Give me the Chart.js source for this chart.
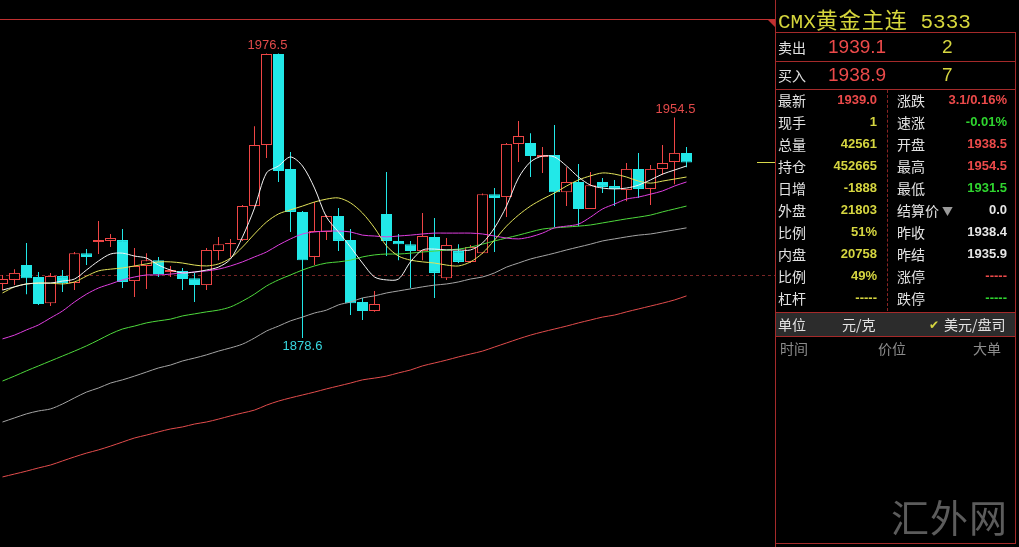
<!DOCTYPE html>
<html><head><meta charset="utf-8">
<script src="https://cdn.jsdelivr.net/npm/chart.js@4.4.0/dist/chart.umd.min.js"></script>
<style>
html,body{margin:0;padding:0;background:#000;width:1019px;height:547px;overflow:hidden;}
#wrap{position:relative;width:1019px;height:547px;font-family:"Noto Sans CJK SC",sans-serif;}
#c{position:absolute;left:0;top:0;}
.t{position:absolute;white-space:nowrap;}
.lab{font-size:14px;line-height:20px;color:#e2e2e2;}
.val{font-family:"Liberation Sans",Arial,sans-serif;font-weight:bold;font-size:13px;line-height:20px;text-align:right;}
.vl{right:142px;}
.vr{right:12px;}
.y{color:#d6d640;} .r{color:#ec4a4a;} .g{color:#2fd52f;} .w{color:#e6e6e6;}
.hl{position:absolute;left:775px;width:241px;height:1px;background:#a52a2a;}
.vln{position:absolute;width:1px;background:#a52a2a;}
</style></head>
<body><div id="wrap">
<canvas id="c" width="775" height="547"></canvas>

<!-- top red rule of the chart -->
<div style="position:absolute;left:0;top:19px;width:775px;height:1px;background:#c03030"></div>
<div style="position:absolute;left:767px;top:19px;width:0;height:0;border-top:8px solid #c03030;border-left:8px solid transparent"></div>

<!-- quote panel frame -->
<div class="vln" style="left:775px;top:0;height:547px"></div>
<div class="vln" style="left:1015px;top:32px;height:512px"></div>
<div class="hl" style="top:32px"></div>
<div class="hl" style="top:61px"></div>
<div class="hl" style="top:89px"></div>
<div style="position:absolute;left:776px;top:313px;width:239px;height:23px;background:#2c2c2c"></div>
<div class="hl" style="top:312px"></div>
<div class="hl" style="top:336px"></div>
<div class="hl" style="top:543px"></div>
<div style="position:absolute;left:887px;top:90px;height:221px;width:0;border-left:1px dashed #8a2424"></div>

<div class="t" style="left:778px;top:4px;line-height:28px;color:#d6d63c;"><span style="font-family:'Liberation Mono',monospace;font-size:21px">CMX</span><span style="font-size:22px;letter-spacing:1px">黄金主连</span><span style="font-family:'Liberation Mono',monospace;font-size:21px"> 5333</span></div>

<div class="t lab" style="left:778px;top:37px">卖出</div>
<div class="t r" style="left:828px;top:35px;font-family:'Liberation Sans',Arial,sans-serif;font-size:19px;line-height:24px">1939.1</div>
<div class="t y" style="left:942px;top:35px;font-family:'Liberation Sans',Arial,sans-serif;font-size:19px;line-height:24px">2</div>
<div class="t lab" style="left:778px;top:65px">买入</div>
<div class="t r" style="left:828px;top:63px;font-family:'Liberation Sans',Arial,sans-serif;font-size:19px;line-height:24px">1938.9</div>
<div class="t y" style="left:942px;top:63px;font-family:'Liberation Sans',Arial,sans-serif;font-size:19px;line-height:24px">7</div>

<div class="t lab" style="left:778px;top:90px">最新</div><div class="t val vl r" style="top:90px">1939.0</div>
<div class="t lab" style="left:897px;top:90px">涨跌</div><div class="t val vr r" style="top:90px">3.1/0.16%</div>
<div class="t lab" style="left:778px;top:112px">现手</div><div class="t val vl y" style="top:112px">1</div>
<div class="t lab" style="left:897px;top:112px">速涨</div><div class="t val vr g" style="top:112px">-0.01%</div>
<div class="t lab" style="left:778px;top:134px">总量</div><div class="t val vl y" style="top:134px">42561</div>
<div class="t lab" style="left:897px;top:134px">开盘</div><div class="t val vr r" style="top:134px">1938.5</div>
<div class="t lab" style="left:778px;top:156px">持仓</div><div class="t val vl y" style="top:156px">452665</div>
<div class="t lab" style="left:897px;top:156px">最高</div><div class="t val vr r" style="top:156px">1954.5</div>
<div class="t lab" style="left:778px;top:178px">日增</div><div class="t val vl y" style="top:178px">-1888</div>
<div class="t lab" style="left:897px;top:178px">最低</div><div class="t val vr g" style="top:178px">1931.5</div>
<div class="t lab" style="left:778px;top:200px">外盘</div><div class="t val vl y" style="top:200px">21803</div>
<div class="t lab" style="left:897px;top:200px">结算价<span style="color:#9a9a9a;font-size:11px;margin-left:3px">▼</span></div><div class="t val vr w" style="top:200px">0.0</div>
<div class="t lab" style="left:778px;top:222px">比例</div><div class="t val vl y" style="top:222px">51%</div>
<div class="t lab" style="left:897px;top:222px">昨收</div><div class="t val vr w" style="top:222px">1938.4</div>
<div class="t lab" style="left:778px;top:244px">内盘</div><div class="t val vl y" style="top:244px">20758</div>
<div class="t lab" style="left:897px;top:244px">昨结</div><div class="t val vr w" style="top:244px">1935.9</div>
<div class="t lab" style="left:778px;top:266px">比例</div><div class="t val vl y" style="top:266px">49%</div>
<div class="t lab" style="left:897px;top:266px">涨停</div><div class="t val vr r" style="top:266px">-----</div>
<div class="t lab" style="left:778px;top:288px">杠杆</div><div class="t val vl y" style="top:288px">-----</div>
<div class="t lab" style="left:897px;top:288px">跌停</div><div class="t val vr g" style="top:288px">-----</div>

<div class="t lab" style="left:778px;top:314px">单位</div>
<div class="t lab" style="left:842px;top:314px">元/克</div>
<div class="t lab" style="left:929px;top:314px;color:#d6d640;font-size:12px">✔</div>
<div class="t lab" style="left:944px;top:314px">美元/盘司</div>

<div class="t lab" style="left:780px;top:338px;color:#8c8c8c">时间</div>
<div class="t lab" style="left:878px;top:338px;color:#8c8c8c">价位</div>
<div class="t lab" style="left:973px;top:338px;color:#8c8c8c">大单</div>

<div class="t" style="left:891px;top:493px;font-size:38px;line-height:46px;color:#5c5c5c;letter-spacing:1px">汇外网</div>
</div>

<script>
// ---- candle data (price) ----
const opens  = [1897.2,1898.6,1903.7,1899.6,1890.6,1899.9,1897.5,1907.8,1911.6,1912.0,
                1912.3,1898.2,1903.4,1905.4,1901.3,1901.7,1899.2,1896.8,1908.5,1910.9,
                1912.3,1924.0,1945.0,1976.3,1936.8,1922.0,1906.5,1915.1,1920.6,1912.3,
                1891.0,1887.9,1921.3,1912.0,1910.9,1908.5,1913.4,1899.2,1908.5,1904.8,
                1907.8,1928.1,1927.1,1945.4,1945.7,1940.9,1941.6,1928.8,1932.3,1923.0,
                1932.3,1930.9,1929.5,1936.8,1929.9,1936.8,1939.2,1942.3];
const highs  = [1900.3,1902.3,1911.3,1901.3,1901.0,1902.0,1908.2,1909.2,1918.9,1914.4,
                1916.1,1909.6,1907.8,1906.5,1903.4,1902.7,1901.0,1909.6,1913.4,1912.7,
                1924.4,1951.5,1976.5,1976.5,1942.6,1922.3,1925.4,1920.9,1923.3,1916.1,
                1892.4,1894.8,1935.7,1914.4,1912.0,1921.6,1919.9,1913.0,1910.9,1910.6,
                1928.3,1930.2,1945.7,1953.3,1949.1,1944.3,1951.9,1937.4,1938.5,1935.7,
                1933.7,1933.0,1938.8,1942.3,1938.1,1945.0,1954.5,1944.3];
const lows   = [1895.1,1896.8,1893.7,1890.0,1889.6,1894.4,1895.1,1903.7,1907.5,1909.9,
                1895.8,1892.7,1895.5,1899.6,1899.6,1895.1,1891.0,1895.1,1905.4,1906.5,
                1912.0,1923.7,1940.5,1932.3,1915.1,1878.6,1903.7,1912.3,1908.5,1886.5,
                1884.8,1887.6,1906.8,1905.4,1895.8,1905.4,1892.4,1898.6,1904.4,1904.4,
                1907.5,1908.2,1920.2,1939.2,1934.0,1935.4,1916.8,1924.0,1917.1,1923.0,
                1928.5,1924.0,1925.7,1926.8,1924.4,1934.7,1931.5,1937.4];
const closes = [1898.9,1901.0,1899.2,1890.3,1899.9,1897.5,1907.8,1906.5,1912.3,1913.0,
                1897.9,1903.4,1905.4,1900.6,1902.0,1898.9,1896.8,1908.9,1910.9,1911.3,
                1924.0,1945.0,1976.3,1936.1,1922.0,1905.4,1915.4,1920.6,1912.0,1890.6,
                1887.9,1890.3,1912.0,1910.9,1908.5,1913.7,1901.0,1910.6,1904.8,1909.9,
                1928.1,1926.8,1945.4,1948.1,1941.2,1941.6,1928.8,1932.3,1923.0,1931.2,
                1930.6,1929.9,1936.8,1929.9,1936.8,1938.8,1942.3,1939.0];

// ---- moving averages ----
const maWhite  = [1895.1,1896.2,1897.2,1897.5,1897.5,1898.2,1898.9,1902.0,1905.1,1907.5,
                  1907.8,1906.8,1906.1,1903.7,1902.0,1901.0,1901.3,1902.0,1903.0,1905.8,
                  1913.4,1923.3,1935.4,1937.8,1940.9,1937.8,1930.2,1920.2,1915.1,1909.9,
                  1904.4,1899.6,1898.6,1898.9,1904.8,1908.9,1909.2,1908.9,1908.9,1908.9,
                  1911.3,1916.5,1924.0,1933.7,1939.2,1941.2,1940.9,1937.8,1934.0,1931.2,
                  1930.2,1929.9,1930.2,1931.2,1933.0,1935.0,1936.4,1937.8];
const maYellow = [1894.1,1896.2,1897.2,1897.5,1897.5,1897.2,1897.9,1899.9,1901.7,1902.3,
                  1902.7,1903.4,1904.1,1904.8,1904.8,1904.4,1903.7,1903.4,1904.1,1906.1,
                  1909.9,1914.4,1918.5,1921.3,1922.7,1924.0,1925.4,1926.4,1926.8,1925.1,
                  1921.6,1916.5,1910.3,1906.8,1905.4,1904.8,1904.4,1903.7,1903.4,1904.8,
                  1907.8,1912.3,1917.1,1920.9,1924.0,1926.4,1928.5,1930.9,1933.0,1934.4,
                  1935.4,1935.0,1934.0,1932.6,1931.9,1932.6,1933.3,1934.0];
const maPurple = [1878.3,1879.6,1881.4,1883.1,1885.5,1887.9,1891.0,1893.7,1895.8,1897.2,
                  1898.6,1899.6,1900.3,1900.3,1900.6,1901.0,1901.3,1901.7,1902.3,1903.4,
                  1904.8,1906.5,1908.2,1910.6,1912.7,1914.4,1915.1,1915.4,1915.4,1915.1,
                  1914.0,1913.7,1913.4,1913.7,1914.0,1914.4,1914.7,1914.7,1914.7,1914.7,
                  1914.4,1913.7,1913.0,1912.7,1913.4,1914.7,1916.5,1917.1,1917.8,1920.2,
                  1923.0,1924.7,1926.4,1927.1,1928.1,1929.2,1930.9,1932.3];
const maGreen  = [1863.8,1865.5,1867.3,1869.0,1870.7,1872.4,1874.1,1875.9,1877.9,1880.0,
                  1881.7,1882.7,1883.8,1884.5,1885.1,1886.2,1886.9,1887.6,1888.2,1889.3,
                  1891.3,1893.7,1896.5,1898.6,1900.3,1902.0,1903.4,1904.4,1904.8,1905.4,
                  1906.5,1907.2,1907.5,1907.5,1907.8,1908.2,1908.5,1908.9,1909.2,1909.9,
                  1910.9,1912.0,1913.0,1914.0,1915.1,1916.1,1916.5,1916.8,1917.1,1917.5,
                  1918.2,1918.9,1919.6,1920.2,1920.9,1922.0,1923.0,1924.0];
const maGray   = [1849.7,1851.1,1852.5,1853.5,1854.2,1855.9,1858.0,1860.0,1861.4,1863.1,
                  1864.2,1865.5,1866.9,1868.3,1869.3,1870.7,1871.7,1872.8,1874.1,1875.2,
                  1876.5,1878.6,1881.0,1882.7,1884.5,1885.8,1887.2,1888.2,1890.0,1891.0,
                  1892.4,1893.1,1894.1,1894.8,1895.5,1896.2,1896.8,1897.2,1897.9,1898.9,
                  1899.6,1901.0,1903.0,1904.4,1905.8,1906.8,1907.8,1908.9,1909.9,1910.9,
                  1912.0,1912.7,1913.4,1914.0,1914.4,1915.1,1915.8,1916.5];
const maRed    = [1830.8,1831.8,1832.8,1833.9,1834.9,1836.3,1837.7,1839.0,1840.1,1841.4,
                  1842.8,1844.2,1845.2,1846.3,1847.3,1848.0,1849.0,1849.7,1850.7,1851.8,
                  1852.8,1853.8,1855.5,1856.9,1858.0,1859.0,1860.0,1861.1,1862.1,1863.1,
                  1864.2,1864.8,1865.5,1866.6,1867.6,1869.0,1870.0,1871.0,1872.1,1873.1,
                  1874.1,1875.5,1876.9,1878.3,1879.6,1880.7,1881.7,1882.7,1883.8,1884.8,
                  1885.8,1886.5,1887.6,1888.6,1889.6,1890.6,1891.7,1893.1];

const refLevel = 1900.3;          // dashed reference line
const lastPrice = 1939.0;         // current price tick
const highMarks = [22, 56];       // candles whose high is labelled
const lowMarks  = [25];           // candles whose low is labelled

const UP = '#f04646', DN = '#22e8e8';
const idx = opens.map((_, i) => i);
const up = idx.map(i => closes[i] >= opens[i]);
const pts = arr => arr.map((v, i) => ({x: i, y: v}));
const line = (arr, color) => ({type: 'line', data: pts(arr), borderColor: color, borderWidth: 1,
  pointRadius: 0, tension: 0.3, order: 0, clip: false});

const overlay = {
  id: 'overlay',
  beforeDatasetsDraw(chart) {
    const {ctx, chartArea: a, scales: {y}} = chart;
    const yr = Math.round(y.getPixelForValue(refLevel)) + 0.5;
    ctx.save();
    ctx.strokeStyle = '#7a2626'; ctx.lineWidth = 1; ctx.setLineDash([3, 3]);
    ctx.beginPath(); ctx.moveTo(a.left, yr); ctx.lineTo(a.right, yr); ctx.stroke();
    ctx.restore();
  },
  afterDatasetsDraw(chart) {
    const {ctx, chartArea: a, scales: {x, y}} = chart;
    ctx.save();
    const yp = Math.round(y.getPixelForValue(lastPrice)) + 0.5;
    ctx.strokeStyle = '#d8d84a'; ctx.lineWidth = 1;
    ctx.beginPath(); ctx.moveTo(a.right - 18, yp); ctx.lineTo(a.right, yp); ctx.stroke();
    ctx.font = '13px "Liberation Sans", Arial, sans-serif';
    ctx.textAlign = 'center';
    ctx.fillStyle = '#e24a4a'; ctx.textBaseline = 'bottom';
    highMarks.forEach(i => ctx.fillText(highs[i].toFixed(1), x.getPixelForValue(i) + 1, y.getPixelForValue(highs[i]) - 2));
    ctx.fillStyle = '#38d8e0'; ctx.textBaseline = 'top';
    lowMarks.forEach(i => ctx.fillText(lows[i].toFixed(1), x.getPixelForValue(i), y.getPixelForValue(lows[i]) + 2));
    ctx.restore();
  }
};

new Chart(document.getElementById('c'), {
  type: 'bar',
  data: {datasets: [
    line(maWhite, '#f4f4f4'),
    line(maYellow, '#e2e25a'),
    line(maPurple, '#e03ee0'),
    line(maGreen, '#4ed83c'),
    line(maGray, '#a4a4a4'),
    line(maRed, '#e24c4c'),
    {type: 'bar', data: idx.map(i => ({x: i, y: [opens[i], closes[i]]})),
     backgroundColor: idx.map(i => up[i] ? '#000000' : DN),
     borderColor: idx.map(i => up[i] ? UP : DN),
     borderWidth: 1, borderSkipped: false, barThickness: 11, grouped: false, inflateAmount: 0, order: 1},
    {type: 'bar', data: idx.map(i => ({x: i, y: [lows[i], highs[i]]})),
     backgroundColor: idx.map(i => up[i] ? UP : DN),
     borderWidth: 0, barThickness: 1, grouped: false, inflateAmount: 0, order: 2}
  ]},
  options: {
    responsive: false, animation: false, devicePixelRatio: 1,
    layout: {padding: 0},
    plugins: {legend: {display: false}, tooltip: {enabled: false}},
    scales: {
      x: {type: 'linear', offset: false, min: -0.20833, max: 64.375, display: false},
      y: {type: 'linear', min: 1806.69, max: 1994.91, display: false}
    }
  },
  plugins: [overlay]
});
</script>
</body></html>
